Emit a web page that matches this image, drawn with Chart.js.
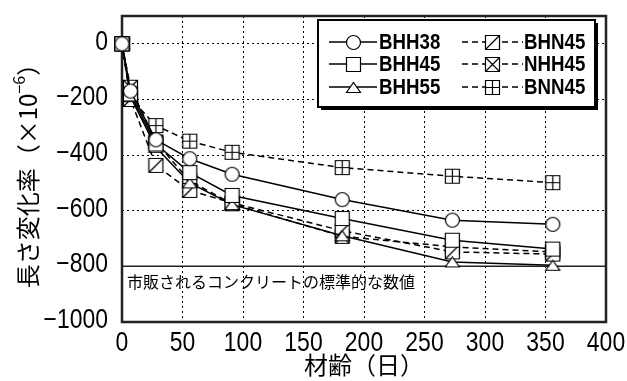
<!DOCTYPE html>
<html lang="ja">
<head>
<meta charset="UTF-8" />
<title>長さ変化率</title>
<script src="https://cdn.jsdelivr.net/npm/chart.js"></script>
<style>
  body { margin: 0; background: #fff; }
  #wrap { width: 627px; height: 381px; }
</style>
</head>
<body>
<div id="wrap"><canvas id="chart" width="627" height="381"></canvas></div>
<script>
  // 材齢 (days) and length change (x10^-6)
  const days  = [0, 7, 28, 56, 91, 182, 273, 356];
  const bhh38 = [0, -170, -345, -413, -469, -560, -634, -649];
  const bhh45 = [0, -180, -360, -463, -545, -628, -706, -738];
  const bhh55 = [0, -190, -372, -500, -578, -690, -784, -796];
  const bhn45 = [0, -200, -437, -527, -572, -672, -748, -756];
  const nhh45 = [0, -156, -353, -493, -575, -692, -730, -748];
  const bnn45 = [0, -196, -294, -350, -390, -445, -476, -499];

  const seriesNames = ['BHH38', 'BHH45', 'BHH55', 'BHN45', 'NHH45', 'BNN45'];
  const xTicks = [0, 50, 100, 150, 200, 250, 300, 350, 400];
  const yTicks = [0, -200, -400, -600, -800, -1000];
  const standardValue = -800;
  const standardLabel = '市販されるコンクリートの標準的な数値';

  const NUM_FONT = "'Liberation Sans', Arial, sans-serif";
  const JP_FONT = "'Noto Sans CJK JP', 'Noto Sans', sans-serif";
  const NARROW = 0.85; // horizontal squeeze to mimic a condensed face

  function marker(kind) {
    const c = document.createElement('canvas');
    c.width = 17; c.height = 17;
    const g = c.getContext('2d');
    g.strokeStyle = '#000';
    g.fillStyle = '#fff';
    g.lineWidth = 1.2;
    const m = 8.5, h = 7;
    g.beginPath();
    if (kind === 'circle') {
      g.arc(m, m, h, 0, Math.PI * 2);
    } else if (kind === 'triangle') {
      g.moveTo(m - 7, m + 5);
      g.lineTo(m + 7, m + 5);
      g.lineTo(m, m - 5);
      g.closePath();
    } else {
      g.rect(m - h, m - h, h * 2, h * 2);
    }
    g.fill();
    g.stroke();
    g.beginPath();
    if (kind === 'diag' || kind === 'cross') {
      g.moveTo(m - h, m + h); g.lineTo(m + h, m - h);
    }
    if (kind === 'cross') {
      g.moveTo(m - h, m - h); g.lineTo(m + h, m + h);
    }
    if (kind === 'grid') {
      g.moveTo(m, m - h); g.lineTo(m, m + h);
      g.moveTo(m - h, m); g.lineTo(m + h, m);
    }
    g.stroke();
    return c;
  }

  const markers = ['circle', 'square', 'triangle', 'diag', 'cross', 'grid'].map(marker);
  const dashes = [[], [], [], [6, 4], [6, 4], [6, 4]];
  const values = [bhh38, bhh45, bhh55, bhn45, nhh45, bnn45];

  const datasets = seriesNames.map((name, i) => ({
    label: name,
    data: days.map((d, j) => ({ x: d, y: values[i][j] })),
    borderColor: '#000',
    borderWidth: 1.5,
    borderDash: dashes[i],
    pointStyle: markers[i],
    pointRadius: 7,
    clip: false,
    tension: 0
  }));

  function narrowText(ctx, txt, x, y, align) {
    const w = ctx.measureText(txt).width * NARROW;
    let sx = x;
    if (align === 'right') sx = x - w;
    if (align === 'center') sx = x - w / 2;
    ctx.save();
    ctx.translate(sx, y);
    ctx.scale(NARROW, 1);
    ctx.textAlign = 'left';
    ctx.fillText(txt, 0, 0);
    ctx.restore();
  }

  // frame, reference line, annotation, tick labels, titles and legend
  const decor = {
    id: 'decor',
    beforeDatasetsDraw(chart) {
      const { ctx, chartArea: a, scales: { x, y } } = chart;
      ctx.save();
      const ys = y.getPixelForValue(standardValue);
      ctx.strokeStyle = '#222';
      ctx.lineWidth = 1.5;
      ctx.beginPath();
      ctx.moveTo(a.left, ys); ctx.lineTo(a.right, ys);
      ctx.stroke();
      ctx.fillStyle = '#000';
      ctx.font = "16px " + JP_FONT;
      ctx.textBaseline = 'middle';
      ctx.fillText(standardLabel, a.left + 5, ys + 16);
      ctx.lineWidth = 2.5;
      ctx.strokeRect(a.left, a.top, a.right - a.left, a.bottom - a.top);

      // tick labels
      ctx.font = "27px " + NUM_FONT;
      ctx.textBaseline = 'alphabetic';
      yTicks.forEach(v => {
        const t = v < 0 ? '−' + Math.abs(v) : String(v);
        narrowText(ctx, t, a.left - 14, y.getPixelForValue(v) + 6, 'right');
      });
      xTicks.forEach(v => {
        narrowText(ctx, String(v), x.getPixelForValue(v), a.bottom + 29, 'center');
      });
      ctx.restore();
    },
    afterDraw(chart) {
      const { ctx, chartArea: a } = chart;
      ctx.save();
      ctx.fillStyle = '#000';
      ctx.textBaseline = 'middle';

      // x title
      ctx.font = "24px " + JP_FONT;
      ctx.textAlign = 'center';
      ctx.fillText('材齢（日）', (a.left + a.right) / 2, 365);

      // y title, rotated
      ctx.save();
      ctx.translate(28, 170);
      ctx.rotate(-Math.PI / 2);
      ctx.textAlign = 'left';
      const main = '長さ変化率（×10';
      ctx.font = "24px " + JP_FONT;
      const w1 = ctx.measureText(main).width;
      ctx.font = "16px " + JP_FONT;
      const w2 = ctx.measureText('−6').width;
      ctx.font = "24px " + JP_FONT;
      const w3 = ctx.measureText('）').width;
      const x0 = -(w1 + w2 + w3) / 2;
      ctx.fillText(main, x0, 0);
      ctx.font = "16px " + JP_FONT;
      ctx.fillText('−6', x0 + w1, -9);
      ctx.font = "24px " + JP_FONT;
      ctx.fillText('）', x0 + w1 + w2, 0);
      ctx.restore();

      // legend
      const L = 318, T = 20, W = 277, H = 87;
      ctx.fillRect(L + 3, T + 3, W, H);
      ctx.fillStyle = '#fff';
      ctx.fillRect(L, T, W, H);
      ctx.strokeStyle = '#000';
      ctx.lineWidth = 2;
      ctx.strokeRect(L, T, W, H);
      const rows = [42, 64, 87];
      ctx.font = "bold 22px " + NUM_FONT;
      seriesNames.forEach((name, i) => {
        const col = i < 3 ? 0 : 1;
        const yy = rows[i % 3];
        const x1 = col ? 462 : 329, x2 = col ? 523 : 377, xm = col ? 492 : 353;
        ctx.strokeStyle = '#000';
        ctx.lineWidth = 1.5;
        ctx.setLineDash(dashes[i]);
        ctx.beginPath();
        ctx.moveTo(x1, yy); ctx.lineTo(x2, yy);
        ctx.stroke();
        ctx.setLineDash([]);
        const mk = markers[i];
        ctx.drawImage(mk, Math.round(xm - mk.width / 2), Math.round(yy - mk.height / 2));
        ctx.fillStyle = '#000';
        narrowText(ctx, name, col ? 524 : 379, yy + 1, 'left');
      });
      ctx.restore();
    }
  };

  new Chart(document.getElementById('chart'), {
    type: 'line',
    data: { datasets: datasets },
    options: {
      responsive: false,
      animation: false,
      devicePixelRatio: 1,
      layout: { padding: { left: 0, right: 21, top: 16, bottom: 0 } },
      plugins: { legend: { display: false }, tooltip: { enabled: false } },
      scales: {
        x: {
          type: 'linear',
          min: 0, max: 400,
          afterBuildTicks: s => { s.ticks = xTicks.map(v => ({ value: v })); },
          afterFit: s => { s.height = 59; },
          grid: { color: '#000', lineWidth: 1, drawTicks: false },
          border: { display: false, dash: [2, 3] },
          ticks: { display: false }
        },
        y: {
          type: 'linear',
          min: -1000, max: 100,
          afterBuildTicks: s => { s.ticks = yTicks.map(v => ({ value: v })); },
          afterFit: s => { s.width = 122; },
          grid: { color: '#000', lineWidth: 1, drawTicks: false },
          border: { display: false, dash: [2, 3] },
          ticks: { display: false }
        }
      }
    },
    plugins: [decor]
  });
</script>
</body>
</html>
